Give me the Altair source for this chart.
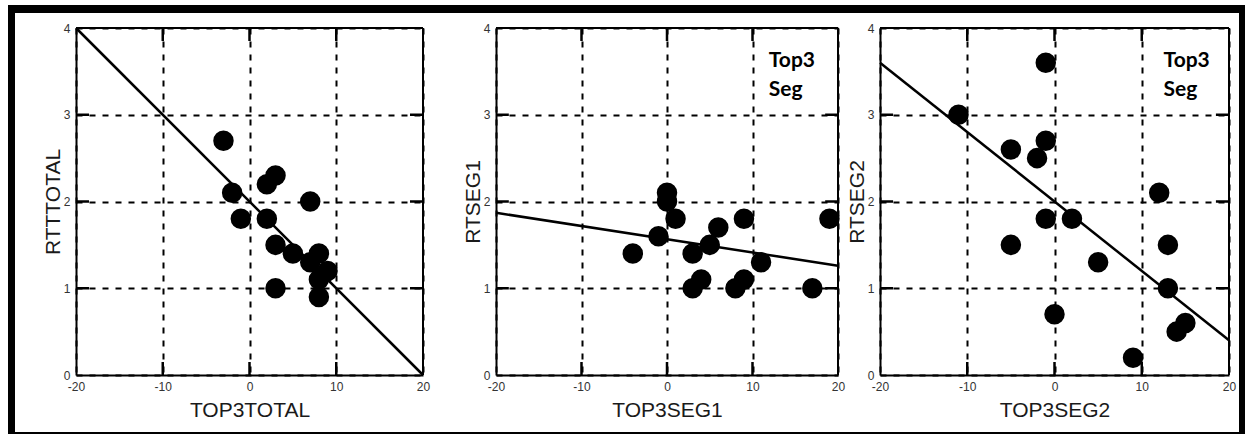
import altair as alt
import pandas as pd

# ---------------- data ----------------
# Panel 1
top3total = [-3, 2, 3, -2, 7, -1, 2, 3, 5, 8, 7, 9, 8, 8, 3]
rtttotal = [2.7, 2.2, 2.3, 2.1, 2.0, 1.8, 1.8, 1.5, 1.4, 1.4, 1.3, 1.2, 1.1, 0.9, 1.0]
fit1_x = [-20, 20]
fit1_y = [4.0, 0.0]

# Panel 2
top3seg1 = [0, 0, 1, -1, -4, 3, 6, 5, 9, 11, 19, 17, 3, 4, 8, 9]
rtseg1 = [2.1, 2.0, 1.8, 1.6, 1.4, 1.4, 1.7, 1.5, 1.8, 1.3, 1.8, 1.0, 1.0, 1.1, 1.0, 1.1]
fit2_x = [-20, 20]
fit2_y = [1.87, 1.26]

# Panel 3
top3seg2 = [-1, -11, -5, -1, -2, 12, -1, 2, -5, 13, 5, 13, 0, 15, 14, 9]
rtseg2 = [3.6, 3.0, 2.6, 2.7, 2.5, 2.1, 1.8, 1.8, 1.5, 1.5, 1.3, 1.0, 0.7, 0.6, 0.5, 0.2]
fit3_x = [-20, 20]
fit3_y = [3.6, 0.4]

x_ticks = [-20, -10, 0, 10, 20]
y_ticks = [0, 1, 2, 3, 4]
x_inner = [-10, 0, 10]
y_inner = [1, 2, 3]
note_text = "Top3\nSeg"

PLOT_H = 347
FONT = "Liberation Sans"


def band(x0, x1, y0, y1):
    return alt.Chart(pd.DataFrame({"k": [0]})).mark_rect(color="black").encode(
        x=alt.value(x0), x2=alt.value(x1), y=alt.value(y0), y2=alt.value(y1)
    )


def panel(xs, ys, fx, fy, xtitle, ytitle, plot_w, cell_w, note_x=None, frame=False):
    xsc = alt.Scale(domain=[-20, 20], nice=False, zero=False, range=[0, plot_w])
    ysc = alt.Scale(domain=[0, 4], nice=False, zero=False)
    xax = alt.Axis(values=x_ticks, title=xtitle, labelExpr="'' + datum.value",
                   labelFlush=False, titleY=41, titleBaseline="alphabetic")
    yax = alt.Axis(values=y_ticks, title=ytitle, labelExpr="'' + datum.value",
                   titleX=-17, titleBaseline="alphabetic")

    def X(f="x"):
        return alt.X(f"{f}:Q", scale=xsc, axis=xax)

    def Y(f="y"):
        return alt.Y(f"{f}:Q", scale=ysc, axis=yax)

    pts = alt.Chart(pd.DataFrame({"x": xs, "y": ys})).mark_circle(
        size=420, color="black", opacity=1
    ).encode(x=X(), y=Y())

    fit = alt.Chart(pd.DataFrame({"x": fx, "y": fy})).mark_line(
        color="black", strokeWidth=2.5
    ).encode(x=X(), y=Y())

    # inward solid ticks on all four sides
    xt = pd.DataFrame({
        "x": x_inner * 2,
        "y": [0.0] * 3 + [3.85] * 3,
        "y2": [0.15] * 3 + [4.0] * 3,
    })
    xtick = alt.Chart(xt).mark_rule(color="black", strokeWidth=2.5).encode(
        x=X(), y=Y(), y2="y2:Q"
    )
    yt = pd.DataFrame({
        "y": y_inner * 2,
        "x": [-20.0] * 3 + [18.5] * 3,
        "x2": [-18.5] * 3 + [20.0] * 3,
    })
    ytick = alt.Chart(yt).mark_rule(color="black", strokeWidth=2.5).encode(
        y=Y(), x=X(), x2="x2:Q"
    )

    # top and right edges of the plot box
    box = pd.DataFrame({"x": [-20.0, 20.0], "x2": [20.0, 20.0],
                        "y": [4.0, 0.0], "y2": [4.0, 4.0]})
    boxr = alt.Chart(box).mark_rule(color="black", strokeWidth=2).encode(
        x=X(), x2="x2:Q", y=Y(), y2="y2:Q"
    )

    layers = [fit, xtick, ytick, boxr, pts]

    if note_x is not None:
        note = alt.Chart(pd.DataFrame({"x": [note_x], "y": [3.55], "t": [note_text]})).mark_text(
            align="left", baseline="alphabetic", font="Lato", fontWeight="bold",
            fontSize=21, lineBreak="\n", lineHeight=29, color="black"
        ).encode(x=X(), y=Y(), text="t:N")
        layers.append(note)

    if frame:
        # outer picture frame (pixels relative to this panel's plot origin)
        layers.append(band(-68, 1169, -23, -15))   # top
        layers.append(band(-68, 1169, 404, 406))   # bottom
        layers.append(band(-68, -61, -23, 406))    # left
        layers.append(band(1163, 1169, -23, 406))  # right

    return alt.layer(*layers).properties(width=cell_w, height=PLOT_H)


p1 = panel(top3total, rtttotal, fit1_x, fit1_y, "TOP3TOTAL", "RTTTOTAL",
           347, 378, frame=True)
p2 = panel(top3seg1, rtseg1, fit2_x, fit2_y, "TOP3SEG1", "RTSEG1",
           342, 342, note_x=11.9)
p3 = panel(top3seg2, rtseg2, fit3_x, fit3_y, "TOP3SEG2", "RTSEG2",
           349, 349, note_x=12.5)

chart = alt.hconcat(p1, p2, p3, spacing=42, bounds="flush").properties(
    padding={"left": 8, "top": 5, "right": 4, "bottom": 1},
    background="white",
).configure_view(
    stroke=None
).configure_axis(
    domain=True, domainColor="black", domainWidth=2,
    ticks=False,
    grid=True, gridColor="black", gridDash=[6, 7], gridWidth=2, gridOpacity=1,
    labelFont=FONT, labelFontSize=12, labelColor="#333333", labelPadding=6,
    titleFont=FONT, titleFontSize=21, titleFontWeight="normal", titleColor="#1a1a1a",
)

chart.save("out.html", embed_options={"renderer": "svg", "actions": False})
